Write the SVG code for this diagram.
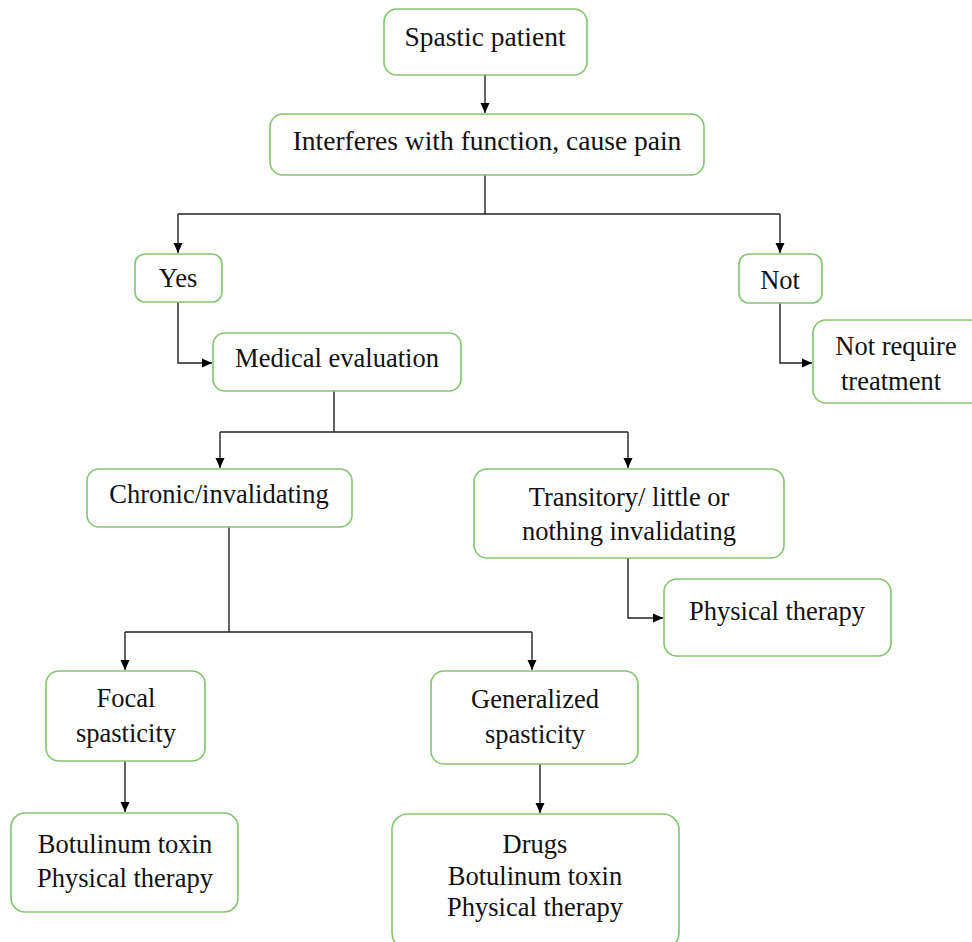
<svg xmlns="http://www.w3.org/2000/svg" width="972" height="942" viewBox="0 0 972 942">
<defs>
<marker id="arr" viewBox="0 0 10 10" refX="10" refY="5" markerWidth="10" markerHeight="10" markerUnits="userSpaceOnUse" orient="auto">
<path d="M0,0.5 L10,5 L0,9.5 Z" fill="#000"/>
</marker>
</defs>
<style>
.box{fill:#fff;stroke:#85c46f;stroke-width:1.6}
.c{fill:none;stroke:#222;stroke-width:1.4}
</style>
<rect width="972" height="942" fill="#fff"/>
<g id="connectors">
<path class="c" d="M485,75 V113" marker-end="url(#arr)"/>
<path class="c" d="M485,175 V214"/>
<path class="c" d="M178,214 H780"/>
<path class="c" d="M178,214 V253" marker-end="url(#arr)"/>
<path class="c" d="M780,214 V253" marker-end="url(#arr)"/>
<path class="c" d="M178,302 V363 H212" marker-end="url(#arr)"/>
<path class="c" d="M780,303 V363 H812" marker-end="url(#arr)"/>
<path class="c" d="M334,391 V432"/>
<path class="c" d="M220,432 H628"/>
<path class="c" d="M220,432 V468" marker-end="url(#arr)"/>
<path class="c" d="M628,432 V468" marker-end="url(#arr)"/>
<path class="c" d="M628,558 V618 H663" marker-end="url(#arr)"/>
<path class="c" d="M229,527 V632"/>
<path class="c" d="M125,632 H532"/>
<path class="c" d="M125,632 V670" marker-end="url(#arr)"/>
<path class="c" d="M532,632 V670" marker-end="url(#arr)"/>
<path class="c" d="M125,761 V812" marker-end="url(#arr)"/>
<path class="c" d="M540,764 V813" marker-end="url(#arr)"/>
</g>
<g font-family="Liberation Serif, Times New Roman, DejaVu Serif, serif" font-size="26.5" fill="#111" text-anchor="middle">
<g id="n-spastic">
<rect class="box" x="384" y="9" width="203" height="66" rx="13"/>
<text x="485" y="46" font-size="27.5">Spastic patient</text>
</g>
<g id="n-interferes">
<rect class="box" x="270" y="114" width="434" height="61" rx="13"/>
<text x="487" y="150" font-size="27.5">Interferes with function, cause pain</text>
</g>
<g id="n-yes">
<rect class="box" x="135" y="254" width="87" height="48" rx="10"/>
<text x="178" y="287">Yes</text>
</g>
<g id="n-not">
<rect class="box" x="739" y="254" width="83" height="49" rx="10"/>
<text x="780" y="289">Not</text>
</g>
<g id="n-notreq">
<rect class="box" x="813" y="320" width="170" height="83" rx="13"/>
<text x="896" y="355">Not require</text>
<text x="891" y="390">treatment</text>
</g>
<g id="n-medical">
<rect class="box" x="213" y="333" width="248" height="58" rx="12"/>
<text x="337" y="367">Medical evaluation</text>
</g>
<g id="n-chronic">
<rect class="box" x="87" y="469" width="265" height="58" rx="12"/>
<text x="219" y="503">Chronic/invalidating</text>
</g>
<g id="n-transitory">
<rect class="box" x="474" y="469" width="310" height="89" rx="13"/>
<text x="629" y="506">Transitory/ little or</text>
<text x="629" y="540">nothing invalidating</text>
</g>
<g id="n-pt-right">
<rect class="box" x="664" y="579" width="227" height="77" rx="13"/>
<text x="777" y="620">Physical therapy</text>
</g>
<g id="n-focal">
<rect class="box" x="46" y="671" width="159" height="90" rx="13"/>
<text x="126" y="707">Focal</text>
<text x="126" y="742">spasticity</text>
</g>
<g id="n-generalized">
<rect class="box" x="431" y="671" width="207" height="93" rx="13"/>
<text x="535" y="708">Generalized</text>
<text x="535" y="743">spasticity</text>
</g>
<g id="n-focal-tx">
<rect class="box" x="11" y="813" width="227" height="99" rx="14"/>
<text x="125" y="853">Botulinum toxin</text>
<text x="125" y="887">Physical therapy</text>
</g>
<g id="n-gen-tx">
<rect class="box" x="392" y="814" width="287" height="135" rx="16"/>
<text x="535" y="853">Drugs</text>
<text x="535" y="885">Botulinum toxin</text>
<text x="535" y="916">Physical therapy</text>
</g>
</g>
</svg>
